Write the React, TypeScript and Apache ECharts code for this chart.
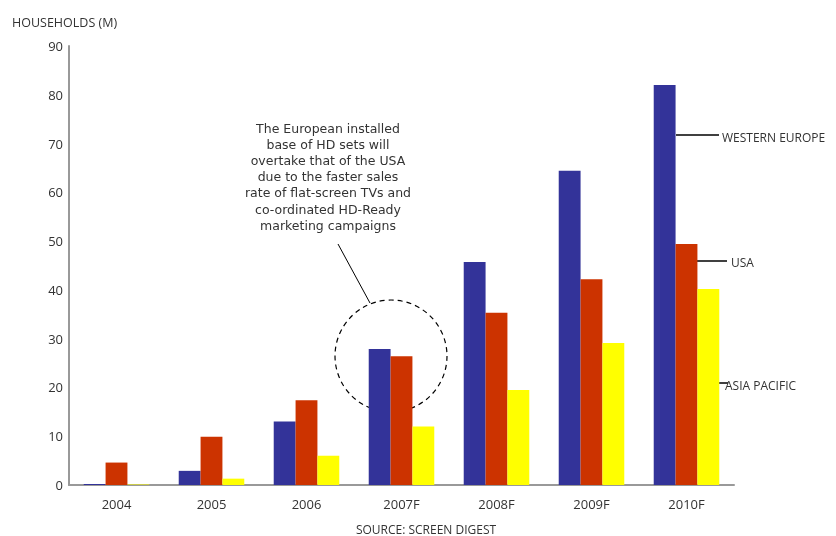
import React, { useEffect, useRef } from "react";
import * as echarts from "echarts";

const years = ["2004", "2005", "2006", "2007F", "2008F", "2009F", "2010F"];
const westernEurope = [0.2, 2.9, 13.0, 27.9, 45.7, 64.4, 82.0];
const usa = [4.6, 9.9, 17.4, 26.4, 35.3, 42.2, 49.4];
const asiaPacific = [0.1, 1.3, 6.0, 12.0, 19.5, 29.1, 40.2];
const yTicks = { min: 0, max: 90, interval: 10 };

const noteLines = [
  "The European installed",
  "base of HD sets will",
  "overtake that of the USA",
  "due to the faster sales",
  "rate of flat-screen TVs and",
  "co-ordinated HD-Ready",
  "marketing campaigns",
];

const FONT = "'Open Sans', Lato, sans-serif";
const NOTE_FONT = "'DejaVu Sans', 'Open Sans', sans-serif";
const TEXT = "#333333";

export default function App() {
  const ref = useRef<HTMLDivElement>(null);

  useEffect(() => {
    if (!ref.current) return;
    const chart = echarts.init(ref.current, null, { renderer: "svg" });

    const bar = (name: string, data: number[], color: string) => ({
      name,
      type: "bar",
      data,
      barGap: "0%",
      barCategoryGap: "31%",
      itemStyle: { color },
    });

    const pointer = (x1: number, y: number, x2: number) => ({
      type: "line",
      shape: { x1, y1: y, x2, y2: y },
      style: { stroke: "#000", lineWidth: 1.5 },
    });

    const label = (text: string, x: number, y: number) => ({
      type: "text",
      x,
      y,
      style: {
        text,
        fill: TEXT,
        font: `12px ${FONT}`,
        textVerticalAlign: "middle",
      },
    });

    // Callout text, one element per line so the spacing is explicit
    const note = noteLines.map((line, i) => ({
      type: "text",
      x: 328,
      y: 128 + i * 16.2,
      style: {
        text: line,
        fill: TEXT,
        font: `12.5px ${NOTE_FONT}`,
        textAlign: "center",
        textVerticalAlign: "middle",
      },
    }));

    chart.setOption({
      animation: false,
      textStyle: { fontFamily: FONT },
      grid: { left: 69, right: 102, top: 46, bottom: 51, containLabel: false },
      xAxis: {
        type: "category",
        data: years,
        axisLine: { lineStyle: { color: "#999999", width: 2 } },
        axisTick: { show: false },
        axisLabel: { color: TEXT, fontSize: 13, margin: 12 },
      },
      yAxis: {
        type: "value",
        ...yTicks,
        axisLine: { show: true, lineStyle: { color: "#999999", width: 2 } },
        axisTick: { show: false },
        splitLine: { show: false },
        axisLabel: { color: TEXT, fontSize: 13, margin: 6 },
      },
      series: [
        bar("WESTERN EUROPE", westernEurope, "#333399"),
        bar("USA", usa, "#CC3300"),
        bar("ASIA PACIFIC", asiaPacific, "#FFFF00"),
      ],
      graphic: [
        {
          type: "text",
          x: 12,
          y: 22,
          style: {
            text: "HOUSEHOLDS (M)",
            fill: TEXT,
            font: `12.5px ${FONT}`,
            textVerticalAlign: "middle",
          },
        },
        {
          type: "text",
          x: 426,
          y: 529,
          style: {
            text: "SOURCE: SCREEN DIGEST",
            fill: TEXT,
            font: `12px ${FONT}`,
            textAlign: "center",
            textVerticalAlign: "middle",
          },
        },
        ...note,
        {
          type: "line",
          shape: { x1: 338, y1: 244, x2: 370, y2: 303 },
          style: { stroke: "#000", lineWidth: 1 },
        },
        {
          type: "circle",
          shape: { cx: 391, cy: 356, r: 56 },
          style: { fill: "none", stroke: "#000", lineWidth: 1.2, lineDash: [5, 4] },
        },
        pointer(676, 135, 719),
        label("WESTERN EUROPE", 722, 137),
        pointer(695, 261, 727),
        label("USA", 731, 262),
        pointer(718, 383, 728),
        label("ASIA PACIFIC", 725, 385),
      ],
    });

    return () => chart.dispose();
  }, []);

  return (
    <div
      ref={ref}
      style={{ position: "fixed", left: 0, top: 0, width: 836, height: 536 }}
    />
  );
}
